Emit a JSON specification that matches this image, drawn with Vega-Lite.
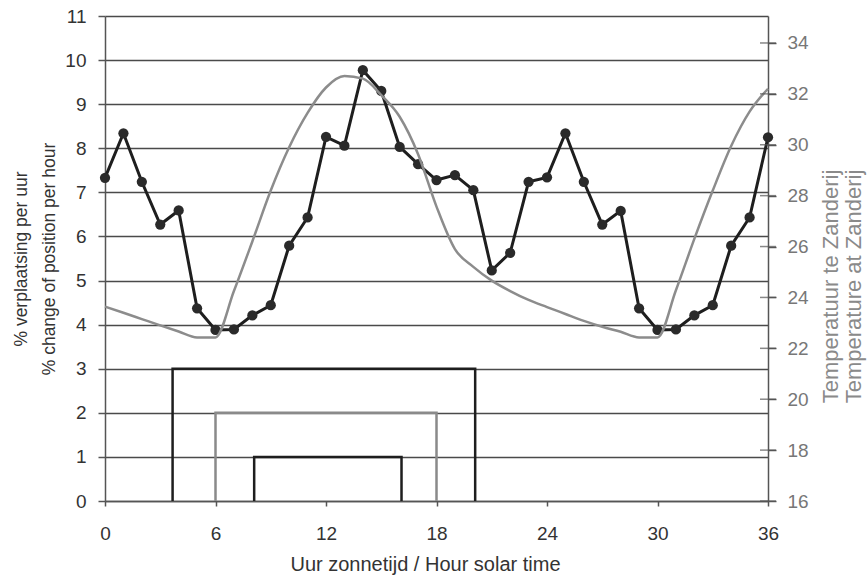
{
  "$schema": "https://vega.github.io/schema/vega-lite/v6.json",
  "width": 663,
  "height": 485,
  "autosize": "none",
  "padding": {"left": 105, "top": 16, "right": 100, "bottom": 75},
  "background": "white",
  "config": {
    "view": {"stroke": null},
    "font": "Liberation Sans",
    "axis": {"labelFont": "Liberation Sans", "titleFont": "Liberation Sans", "titleFontWeight": "normal"}
  },
  "datasets": {
    "move": [
      {"h": 0, "v": 7.33}, {"h": 1, "v": 8.34}, {"h": 2, "v": 7.24}, {"h": 3, "v": 6.27},
      {"h": 4, "v": 6.59}, {"h": 5, "v": 4.37}, {"h": 6, "v": 3.88}, {"h": 7, "v": 3.89},
      {"h": 8, "v": 4.21}, {"h": 9, "v": 4.44}, {"h": 10, "v": 5.79}, {"h": 11, "v": 6.43},
      {"h": 12, "v": 8.26}, {"h": 13, "v": 8.06}, {"h": 14, "v": 9.77}, {"h": 15, "v": 9.3},
      {"h": 16, "v": 8.03}, {"h": 17, "v": 7.64}, {"h": 18, "v": 7.28}, {"h": 19, "v": 7.39},
      {"h": 20, "v": 7.05}, {"h": 21, "v": 5.23}, {"h": 22, "v": 5.63}, {"h": 23, "v": 7.24},
      {"h": 24, "v": 7.34}, {"h": 25, "v": 8.34}, {"h": 26, "v": 7.24}, {"h": 27, "v": 6.27},
      {"h": 28, "v": 6.58}, {"h": 29, "v": 4.37}, {"h": 30, "v": 3.88}, {"h": 31, "v": 3.89},
      {"h": 32, "v": 4.21}, {"h": 33, "v": 4.44}, {"h": 34, "v": 5.79}, {"h": 35, "v": 6.43},
      {"h": 36, "v": 8.25}
    ],
    "temp": [
      {"h": 0, "t": 23.64}, {"h": 1, "t": 23.4}, {"h": 2, "t": 23.15}, {"h": 3, "t": 22.9},
      {"h": 4, "t": 22.66}, {"h": 5, "t": 22.43}, {"h": 6, "t": 22.43}, {"h": 7, "t": 24.25},
      {"h": 8, "t": 26.2}, {"h": 9, "t": 28.2}, {"h": 10, "t": 29.9}, {"h": 11, "t": 31.25},
      {"h": 12, "t": 32.25}, {"h": 13, "t": 32.7}, {"h": 14, "t": 32.6}, {"h": 15, "t": 31.95},
      {"h": 16, "t": 31.1}, {"h": 17, "t": 29.63}, {"h": 18, "t": 27.57}, {"h": 19, "t": 25.9},
      {"h": 20, "t": 25.2}, {"h": 21, "t": 24.66}, {"h": 22, "t": 24.25}, {"h": 23, "t": 23.9},
      {"h": 24, "t": 23.62}, {"h": 25, "t": 23.35}, {"h": 26, "t": 23.08}, {"h": 27, "t": 22.85},
      {"h": 28, "t": 22.65}, {"h": 29, "t": 22.43}, {"h": 30, "t": 22.43}, {"h": 31, "t": 24.28},
      {"h": 32, "t": 26.3}, {"h": 33, "t": 28.2}, {"h": 34, "t": 29.95}, {"h": 35, "t": 31.3},
      {"h": 36, "t": 32.2}
    ],
    "steps": [
      {"s": "outer", "i": 0, "h": 3.67, "v": 0}, {"s": "outer", "i": 1, "h": 3.67, "v": 3},
      {"s": "outer", "i": 2, "h": 20.1, "v": 3}, {"s": "outer", "i": 3, "h": 20.1, "v": 0},
      {"s": "mid", "i": 0, "h": 6, "v": 0}, {"s": "mid", "i": 1, "h": 6, "v": 2},
      {"s": "mid", "i": 2, "h": 18, "v": 2}, {"s": "mid", "i": 3, "h": 18, "v": 0},
      {"s": "inner", "i": 0, "h": 8.1, "v": 0}, {"s": "inner", "i": 1, "h": 8.1, "v": 1},
      {"s": "inner", "i": 2, "h": 16.1, "v": 1}, {"s": "inner", "i": 3, "h": 16.1, "v": 0}
    ],
    "rticks": [
      {"h": 36, "t": 16}, {"h": 36, "t": 18}, {"h": 36, "t": 20}, {"h": 36, "t": 22},
      {"h": 36, "t": 24}, {"h": 36, "t": 26}, {"h": 36, "t": 28}, {"h": 36, "t": 30},
      {"h": 36, "t": 32}, {"h": 36, "t": 34}
    ]
  },
  "encoding": {
    "x": {
      "field": "h", "type": "quantitative",
      "scale": {"domain": [0, 36], "nice": false, "zero": false},
      "axis": {
        "values": [0, 6, 12, 18, 24, 30, 36],
        "title": "Uur zonnetijd / Hour solar time",
        "grid": false,
        "labelFlush": false,
        "domainColor": "#555", "domainWidth": 1.5,
        "tickColor": "#555", "tickWidth": 1.5, "tickSize": 5,
        "labelFontSize": 19, "labelColor": "#333", "labelPadding": 18,
        "titleFontSize": 20, "titleColor": "#333", "titlePadding": 11, "titleX": 320
      }
    }
  },
  "layer": [
    {
      "layer": [
        {
          "data": {"name": "steps"},
          "mark": {"type": "line", "strokeWidth": 2.5},
          "encoding": {
            "y": {
              "field": "v", "type": "quantitative",
              "scale": {"domain": [0, 11], "nice": false},
              "axis": {
                "values": [0, 1, 2, 3, 4, 5, 6, 7, 8, 9, 10, 11],
                "title": ["% verplaatsing per uur", "% change of position per hour"],
                "grid": true, "gridColor": "#4a4a4a", "gridWidth": 1.5,
                "domainColor": "#555", "domainWidth": 1.5,
                "tickColor": "#555", "tickWidth": 1.5, "tickSize": 7,
                "labelFontSize": 19, "labelColor": "#333", "labelPadding": 12,
                "titleFontSize": 17.5, "titleColor": "#333", "titlePadding": 6, "titleLineHeight": 28
              }
            },
            "order": {"field": "i"},
            "detail": {"field": "s"},
            "color": {
              "field": "s", "type": "nominal",
              "scale": {"domain": ["outer", "mid", "inner"], "range": ["#1e1e1e", "#8a8a8a", "#1e1e1e"]},
              "legend": null
            }
          }
        },
        {
          "data": {"name": "move"},
          "mark": {"type": "line", "color": "#1e1e1e", "strokeWidth": 3},
          "encoding": {"y": {"field": "v", "type": "quantitative"}}
        },
        {
          "data": {"name": "move"},
          "mark": {"type": "point", "filled": true, "color": "#2a2a2a", "size": 105, "opacity": 1},
          "encoding": {"y": {"field": "v", "type": "quantitative"}}
        }
      ]
    },
    {
      "layer": [
        {
          "data": {"name": "temp"},
          "mark": {"type": "line", "color": "#8c8c8c", "strokeWidth": 2.5, "interpolate": "monotone"},
          "encoding": {
            "y": {
              "field": "t", "type": "quantitative",
              "scale": {"domain": [16, 35.06], "nice": false, "zero": false},
              "axis": {
                "orient": "right",
                "values": [16, 18, 20, 22, 24, 26, 28, 30, 32, 34],
                "title": ["Temperatuur te Zanderij", "Temperature at Zanderij"],
                "titleAngle": -90,
                "titleY": 270,
                "grid": false,
                "domainColor": "#555", "domainWidth": 1.5,
                "tickColor": "#555", "tickWidth": 1.5, "tickSize": 8,
                "labelFontSize": 19, "labelColor": "#777", "labelPadding": 11,
                "titleFontSize": 22, "titleColor": "#8a8a8a", "titlePadding": 11, "titleLineHeight": 23
              }
            }
          }
        },
        {
          "data": {"name": "rticks"},
          "mark": {"type": "tick", "orient": "horizontal", "color": "#555", "thickness": 1.5, "size": 16},
          "encoding": {"y": {"field": "t", "type": "quantitative"}}
        }
      ]
    }
  ],
  "resolve": {"scale": {"y": "independent"}}
}
